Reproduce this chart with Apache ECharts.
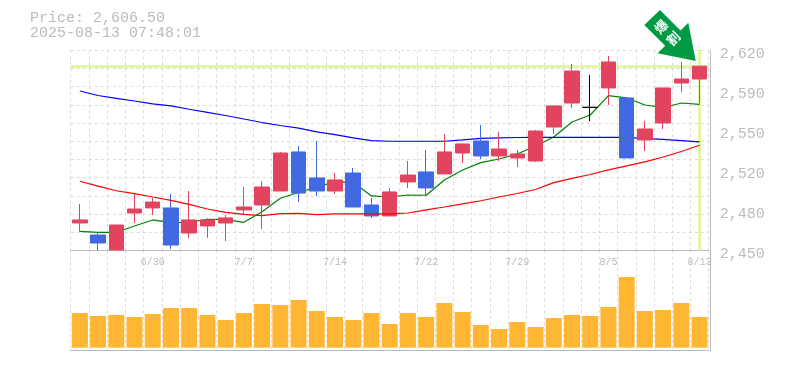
<!DOCTYPE html>
<html>
<head>
<meta charset="utf-8">
<style>
  html, body { margin: 0; padding: 0; background: #fff; }
  #chart { width: 785px; height: 370px; }
</style>
<script src="https://cdn.jsdelivr.net/npm/echarts@6/dist/echarts.min.js"></script>
</head>
<body>
<div id="chart"></div>
<script>
const categories = ['6/24','6/25','6/26','6/27','6/30','7/1','7/2','7/3','7/4','7/7','7/8','7/9','7/10','7/11','7/14','7/15','7/16','7/17','7/18','7/22','7/23','7/24','7/25','7/28','7/29','7/30','7/31','8/1','8/4','8/5','8/6','8/7','8/8','8/12','8/13']
const tickLabels = ['6/30','7/7','7/14','7/22','7/29','8/5','8/13']

// open, close, low, high
const ohlc = [
  [2473.2, 2475.8, 2465.8, 2489.4],
  [2463, 2456.2, 2450, 2465],
  [2450.3, 2471.5, 2450, 2471.5],
  [2481.7, 2485.1, 2473.2, 2498.5],
  [2486, 2491, 2480, 2494.5],
  [2486, 2454.5, 2451.1, 2497.9],
  [2464.7, 2475.8, 2460.5, 2500.4],
  [2470.7, 2475.8, 2460.5, 2477.2],
  [2473.2, 2477.5, 2457.9, 2480],
  [2484.3, 2486.8, 2480, 2503.8],
  [2488.5, 2503.8, 2468.1, 2508.9],
  [2500.4, 2532.7, 2500.4, 2533.6],
  [2533.6, 2498.7, 2491, 2538.7],
  [2511.5, 2500.4, 2496.2, 2542.9],
  [2500.4, 2509.8, 2497.9, 2515.7],
  [2515.7, 2486.8, 2486.8, 2520],
  [2488.5, 2479.2, 2477.5, 2494.5],
  [2479.2, 2499.6, 2479.2, 2503],
  [2508.1, 2514, 2503, 2525.9],
  [2516.6, 2503, 2496.2, 2535.3],
  [2514.9, 2533.6, 2514.9, 2548.9],
  [2532.7, 2540.4, 2524.2, 2540.4],
  [2542.9, 2530.2, 2527.6, 2556.5],
  [2530.2, 2536.1, 2525.9, 2550.6],
  [2528.5, 2531.9, 2520.8, 2535.3],
  [2525.9, 2551.4, 2525.1, 2552.3],
  [2554.8, 2572.7, 2548.9, 2572.7],
  [2575.2, 2602.4, 2571, 2608.4],
  [2571.5, 2571.5, 2559.9, 2599],
  [2588, 2610.1, 2573.5, 2615.2],
  [2579.5, 2528.5, 2528.5, 2580.3],
  [2543.8, 2553.1, 2534.4, 2559.9],
  [2558.2, 2588, 2553.1, 2588],
  [2592.2, 2595.6, 2584.6, 2610.1],
  [2595.6, 2606.5, 2575.2, 2606.5]
]

const maShort = [2466.1, 2465.3, 2465.3, 2470.7, 2475.8, 2473.5, 2473.8, 2476.4, 2476, 2473.8, 2482.8, 2494.2, 2499.1, 2503.8, 2508.1, 2507.8, 2496.2, 2495.3, 2497, 2496.8, 2509.8, 2518.3, 2524.5, 2527.6, 2531.9, 2538.7, 2546.3, 2559.1, 2565, 2581.4, 2579.5, 2573.5, 2571.2, 2575.2, 2574.1]
const maMid = [2585.4, 2581.6, 2579.2, 2576.9, 2574.5, 2572.7, 2569.9, 2567.3, 2564.6, 2561.6, 2558.6, 2556.1, 2553.9, 2550.6, 2548.4, 2545.5, 2543.3, 2542.7, 2542.7, 2542.7, 2542.7, 2543.8, 2545.2, 2545.6, 2545.9, 2546, 2546, 2546, 2546, 2546, 2546, 2545, 2544.3, 2543.3, 2542.1]
const maLong = [2508.7, 2504.5, 2500.6, 2498.1, 2495.3, 2492.4, 2489.1, 2485.1, 2482.2, 2480.6, 2479.4, 2481.1, 2481.4, 2480.4, 2481, 2480.9, 2480.9, 2480.9, 2481.7, 2484.3, 2486.8, 2489.4, 2492.1, 2495.3, 2498.3, 2501.7, 2507.5, 2511.1, 2514.4, 2518.3, 2521.7, 2525.1, 2529.3, 2534, 2539.3]
const volume = [34.7, 31.7, 32.7, 30.7, 33.7, 39.7, 39.7, 32.7, 27.7, 34.7, 43.7, 42.7, 47.7, 36.7, 30.7, 27.7, 34.7, 23.7, 34.7, 30.7, 44.7, 35.7, 22.7, 18.7, 25.7, 20.7, 29.7, 32.7, 31.7, 40.7, 70.7, 36.7, 37.7, 44.7, 30.7]

const lastPrice = 2606.5
const TEXT = '#bbbbbb'
const GRID = '#dcdcdc'
const FRAME = '#bbbbbb'
const PALE = '#e3f5a6'
const MONO = '"Liberation Mono", monospace'

const chart = echarts.init(document.getElementById('chart'))

const dashed = { show: true, lineStyle: { color: GRID, type: [3, 3], width: 1 } }

chart.setOption({
  animation: false,
  title: {
    text: 'Price: 2,606.50\n2025-08-13 07:48:01',
    left: 30,
    top: 11,
    padding: 0,
    textStyle: { color: TEXT, fontSize: 15, fontWeight: 'normal', fontFamily: MONO, lineHeight: 15 }
  },
  grid: [
    { left: 70.7, top: 50.3, width: 638, height: 200 },
    { left: 70.7, top: 250.3, width: 638, height: 99.7 }
  ],
  xAxis: [
    {
      type: 'category',
      data: categories,
      gridIndex: 0,
      axisLine: { show: true, lineStyle: { color: FRAME, width: 1 } },
      axisTick: { show: false },
      splitLine: Object.assign({ interval: 0 }, dashed),
      axisLabel: {
        interval: (i, v) => tickLabels.includes(v),
        color: TEXT,
        fontSize: 10,
        fontFamily: MONO,
        margin: 7
      }
    },
    {
      type: 'category',
      data: categories,
      gridIndex: 1,
      axisLine: { show: true, onZero: false, lineStyle: { color: FRAME, width: 1 } },
      axisTick: { show: false },
      axisLabel: { show: false },
      splitLine: Object.assign({ interval: 0 }, dashed)
    }
  ],
  yAxis: [
    {
      type: 'value',
      gridIndex: 0,
      position: 'right',
      min: 2450,
      max: 2620,
      interval: 34,
      axisLine: { show: false },
      axisTick: { show: false },
      splitLine: { show: false },
      axisLabel: {
        color: TEXT,
        fontSize: 15,
        fontFamily: MONO,
        margin: 11,
        verticalAlign: 'top',
        lineHeight: 7,
        formatter: (v) => (Math.round(v / 10) * 10).toLocaleString('en-US')
      }
    },
    {
      // horizontal dashes, 11 rows, not tied to the price labels
      type: 'value',
      gridIndex: 0,
      min: 0,
      max: 11,
      interval: 1,
      axisLine: { show: false },
      axisTick: { show: false },
      axisLabel: { show: false },
      splitLine: dashed
    },
    {
      type: 'value',
      gridIndex: 1,
      min: -2.3,
      max: 97.4,
      axisLine: { show: false },
      axisTick: { show: false },
      axisLabel: { show: false },
      splitLine: { show: false }
    }
  ],
  series: [
    {
      name: 'Last',
      type: 'line',
      data: [],
      z: 1,
      symbol: 'none',
      markLine: {
        silent: true,
        z: 1,
        symbol: 'none',
        label: { show: false },
        lineStyle: { color: PALE, width: 3, type: 'solid' },
        data: [{ yAxis: lastPrice }, { xAxis: '8/13' }]
      }
    },
    { name: 'MA short', type: 'line', data: maShort, z: 2, symbol: 'none', lineStyle: { color: '#008000', width: 1.2 } },
    { name: 'MA mid', type: 'line', data: maMid, z: 2, symbol: 'none', lineStyle: { color: '#0000ff', width: 1.2 } },
    { name: 'MA long', type: 'line', data: maLong, z: 4, symbol: 'none', lineStyle: { color: '#ff0000', width: 1.2 } },
    {
      name: 'Price',
      type: 'candlestick',
      data: ohlc,
      z: 3,
      barWidth: 15,
      itemStyle: {
        color: '#e24460',
        color0: '#4169e1',
        borderColor: '#e24460',
        borderColor0: '#4169e1',
        borderColorDoji: '#000000',
        borderWidth: 1
      }
    },
    {
      name: 'Volume',
      type: 'bar',
      data: volume,
      xAxisIndex: 1,
      yAxisIndex: 2,
      barWidth: 16,
      itemStyle: { color: '#ffb733' }
    }
  ],
  graphic: [
    {
      // right edge of the frame
      type: 'line',
      z: 50,
      shape: { x1: 710.5, y1: 50, x2: 710.5, y2: 351 },
      style: { stroke: FRAME, lineWidth: 1 }
    },
    {
      type: 'polygon',
      z: 100,
      shape: { points: [[660, 10], [644.3, 25], [665.2, 45.8], [657.7, 53.3], [695.7, 61], [688.3, 22.7], [680.5, 30.5]] },
      style: { fill: '#009944' }
    },
    {
      type: 'text',
      z: 101,
      x: 661,
      y: 26.7,
      rotation: Math.PI / 4,
      style: { text: '爆', fill: '#fff', fontSize: 13, fontWeight: 'bold', fontFamily: '"Noto Sans CJK JP"', align: 'center', verticalAlign: 'middle' }
    },
    {
      type: 'text',
      z: 101,
      x: 673.3,
      y: 38.3,
      rotation: Math.PI / 4,
      style: { text: '割', fill: '#fff', fontSize: 13, fontWeight: 'bold', fontFamily: '"Noto Sans CJK JP"', align: 'center', verticalAlign: 'middle' }
    }
  ]
})
</script>
</body>
</html>
